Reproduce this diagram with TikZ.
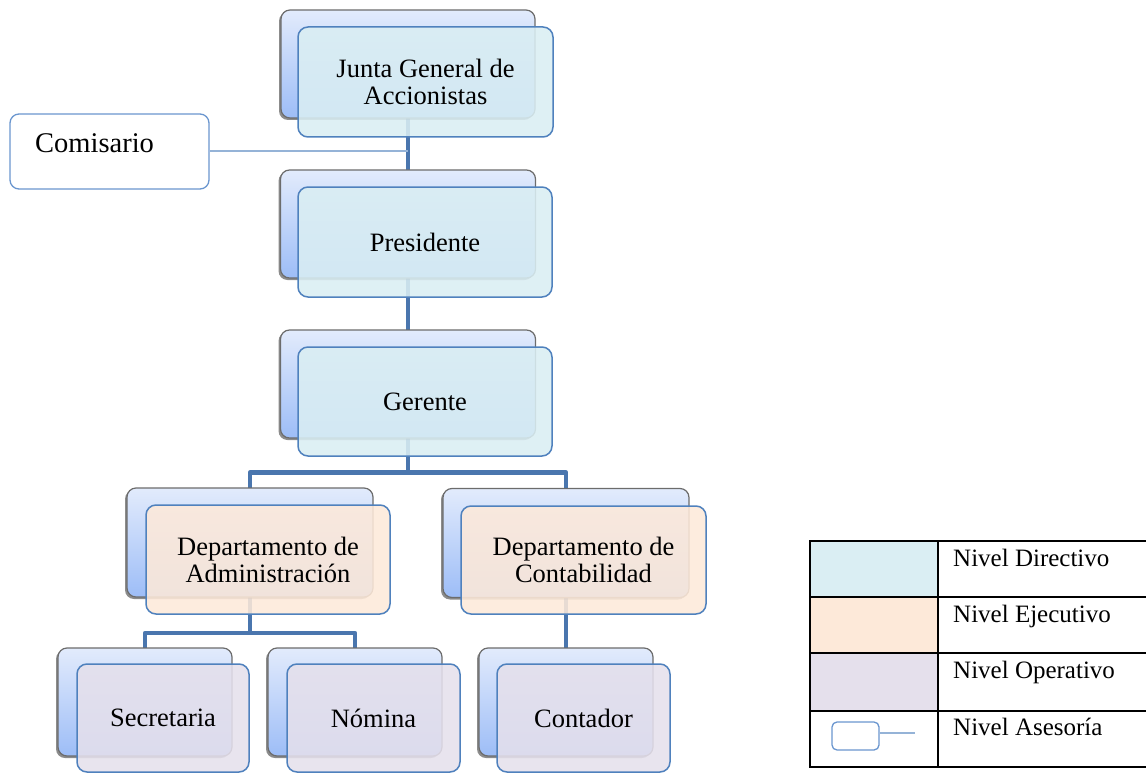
\documentclass[tikz,border=0pt]{standalone}
\usepackage{fontspec}
\setmainfont{Liberation Serif}
\usetikzlibrary{shadows}
\definecolor{dirC}{HTML}{DAEEF3}
\definecolor{ejeC}{HTML}{FDE9D9}
\definecolor{opeC}{HTML}{E5E0EC}
\definecolor{frontBorder}{HTML}{4F81BD}
\definecolor{connC}{HTML}{4A76AE}
\definecolor{asBorder}{HTML}{6A96CF}
\definecolor{asLine}{HTML}{95B3D7}
\definecolor{backTop}{HTML}{E2EBFC}
\definecolor{backBot}{HTML}{9DBDF7}
\begin{document}
\begin{tikzpicture}[x=1pt,y=-1pt,
  backbox/.style={rounded corners=9pt, draw=gray!85!black, line width=1.2pt,
    top color=backTop, bottom color=backBot, inner sep=0pt,
    drop shadow={shadow xshift=-2pt, shadow yshift=-2pt, opacity=0.45, fill=black}},
  frontbox/.style={rounded corners=10pt, draw=frontBorder, line width=1.5pt,
    fill opacity=0.88, text opacity=1, inner sep=0pt, align=center,
    font=\fontsize{26.5}{27}\selectfont},
  conn/.style={draw=connC, line width=4.5pt},
  asbox/.style={rounded corners=9pt, draw=asBorder, line width=1.3pt, fill=white, inner sep=0pt},
  asconn/.style={draw=asLine, line width=2pt},
  legtxt/.style={anchor=base west, inner sep=0pt, font=\fontsize{25}{26}\selectfont},
  legline/.style={draw=black, line width=2pt}
]
\useasboundingbox (0,0) rectangle (1146,773);

% back boxes (coordinates)
\coordinate (jBc) at (408,64);
\coordinate (pBc) at (408,224);
\coordinate (gBc) at (408,384);
\coordinate (aBc) at (250,542.5);
\coordinate (cBc) at (566,543);
\coordinate (sBc) at (145,702);
\coordinate (nBc) at (355,702);
\coordinate (tBc) at (566,702);

% connectors (drawn under the boxes)
\begin{scope}
\node[minimum width=254pt, minimum height=108pt, inner sep=0pt] (jB) at (jBc) {};
\node[minimum width=255pt, minimum height=108pt, inner sep=0pt] (pB) at (pBc) {};
\node[minimum width=255pt, minimum height=108pt, inner sep=0pt] (gB) at (gBc) {};
\node[minimum width=246pt, minimum height=109pt, inner sep=0pt] (aB) at (aBc) {};
\node[minimum width=246pt, minimum height=109pt, inner sep=0pt] (cB) at (cBc) {};
\node[minimum width=174pt, minimum height=108pt, inner sep=0pt] (sB) at (sBc) {};
\node[minimum width=174pt, minimum height=108pt, inner sep=0pt] (nB) at (nBc) {};
\node[minimum width=174pt, minimum height=108pt, inner sep=0pt] (tB) at (tBc) {};
\end{scope}

\coordinate (h1) at (408,472.5);
\coordinate (h2) at (250,633);
\draw[conn] (jB.south) -- (pB.north);
\draw[conn] (pB.south) -- (gB.north);
\draw[conn, line join=round] (gB.south) -- (h1) -| (aB.north);
\draw[conn, line join=round] (h1) -| (cB.north);
\draw[conn, line join=round] (aB.south) -- (h2) -| (sB.north);
\draw[conn, line join=round] (h2) -| (nB.north);
\draw[conn] (cB.south) -- (tB.north);

% back boxes drawn
\foreach \n/\w/\h in {jB/254/108, pB/255/108, gB/255/108, aB/246/109, cB/246/109, sB/174/108, nB/174/108, tB/174/108}{
  \node[backbox, minimum width=\w pt, minimum height=\h pt] at (\n.center) {};
}

% front boxes
\node[frontbox, fill=dirC, minimum width=255pt, minimum height=110pt] (jF) at (425.5,82) {Junta General de\\Accionistas};
\node[frontbox, fill=dirC, minimum width=254pt, minimum height=110pt] (pF) at (425,242) {Presidente};
\node[frontbox, fill=dirC, minimum width=254pt, minimum height=109pt] (gF) at (425,401.5) {Gerente};
\node[frontbox, fill=ejeC, minimum width=244pt, minimum height=109pt] (aF) at (268,559.5) {Departamento de\\Administración};
\node[frontbox, fill=ejeC, minimum width=245pt, minimum height=108pt] (cF) at (583.5,560) {Departamento de\\Contabilidad};
\node[frontbox, fill=opeC, minimum width=172pt, minimum height=108pt] (sF) at (163,718) {Secretaria};
\node[frontbox, fill=opeC, minimum width=173pt, minimum height=108pt] (nF) at (373.5,718) {Nómina};
\node[frontbox, fill=opeC, minimum width=173pt, minimum height=108pt] (tF) at (583.5,718) {Contador};

% Comisario
\node[asbox, minimum width=199pt, minimum height=75pt] (com) at (109.5,151.5) {};
\node[anchor=base west, inner sep=0pt, font=\fontsize{28.5}{29}\selectfont] (comT) at (35,153) {Comisario};
\draw[asconn] (com.east) -- (com.east -| jB.south);

% legend table
\node[inner sep=0pt, minimum width=128pt, minimum height=56pt, fill=dirC] (l1) at (874,569) {};
\node[inner sep=0pt, minimum width=128pt, minimum height=56pt, fill=ejeC] (l2) at (874,625) {};
\node[inner sep=0pt, minimum width=128pt, minimum height=58pt, fill=opeC] (l3) at (874,682) {};
\node[inner sep=0pt, minimum width=128pt, minimum height=56pt] (l4) at (874,739) {};
\draw[legline] (810,541) -- (1147,541);
\draw[legline] (810,597) -- (1147,597);
\draw[legline] (810,653) -- (1147,653);
\draw[legline] (810,711) -- (1147,711);
\draw[legline] (810,767) -- (1147,767);
\draw[legline] (810,540) -- (810,768);
\draw[legline] (938,540) -- (938,768);
\node[legtxt] (t1) at (953,566) {Nivel Directivo};
\node[legtxt] (t2) at (953,622) {Nivel Ejecutivo};
\node[legtxt] (t3) at (953,678) {Nivel Operativo};
\node[legtxt] (t4) at (953,735) {Nivel Asesoría};
\node[asbox, rounded corners=5pt, minimum width=47pt, minimum height=28pt] (icon) at (855.5,736) {};
\coordinate (iconEnd) at (915,733);
\draw[asconn] (icon.east |- iconEnd) -- (iconEnd);
\end{tikzpicture}
\end{document}
